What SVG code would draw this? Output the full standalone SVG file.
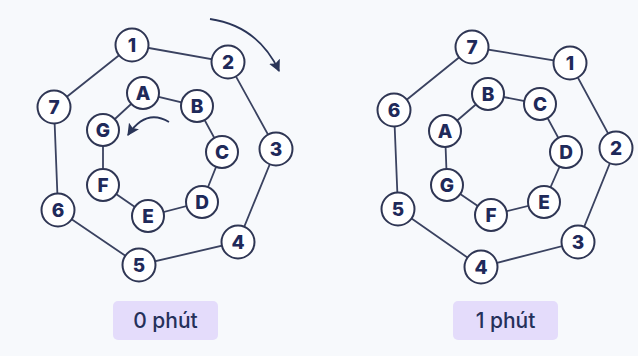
<svg xmlns="http://www.w3.org/2000/svg" width="638" height="356" viewBox="0 0 638 356">
<defs>
<style>
.bg{fill:#f7f9fc}
.edge{stroke:#3a4260;stroke-width:1.8;fill:none}
.node circle{fill:#ffffff;stroke:#2f3654;stroke-width:2}
.node text{font-family:Inter,"Open Sans",sans-serif;font-weight:800;font-size:19px;fill:#1f2a5a;text-anchor:middle;dominant-baseline:central}
.arrow{stroke:#2a3558;stroke-width:1.8;fill:none}
.tag rect{fill:#e4dcfb}
.tag text{font-family:Inter,"Open Sans",sans-serif;font-weight:500;font-size:21px;fill:#25305a;text-anchor:middle}
</style>
<marker id="ah2" viewBox="0 0 10 10" refX="9" refY="5" markerWidth="12" markerHeight="12" orient="auto" markerUnits="userSpaceOnUse">
<path d="M0,0 L10,5 L0,10 L2,5 Z" fill="#2a3558"/>
</marker>
</defs>
<rect class="bg" x="0" y="0" width="638" height="356"/>
<g id="connectors">
<polygon class="edge" points="132,45 228,62 276,149 238,242 139,265 58,210 54,107"/>
<polygon class="edge" points="143,93 197,106 222,152 202,202 148,216 103,185 103,130"/>
<polygon class="edge" points="472,47 570,63 616,148 578,242 481,267 398,209 394,110"/>
<polygon class="edge" points="445,131 488,94 540,104 566,152 544,202 491,215 447,185"/>
<path class="arrow" d="M210,19 Q258,26 279,71" marker-end="url(#ah2)"/>
<path class="arrow" d="M169,122 Q146,108 128,135" marker-end="url(#ah2)"/>
</g>
<g id="n1" class="node"><circle cx="132" cy="45" r="16.5"/><text x="132" y="45">1</text></g>
<g id="n2" class="node"><circle cx="228" cy="62" r="16.5"/><text x="228" y="62">2</text></g>
<g id="n3" class="node"><circle cx="276" cy="149" r="16.5"/><text x="276" y="149">3</text></g>
<g id="n4" class="node"><circle cx="238" cy="242" r="16.5"/><text x="238" y="242">4</text></g>
<g id="n5" class="node"><circle cx="139" cy="265" r="16.5"/><text x="139" y="265">5</text></g>
<g id="n6" class="node"><circle cx="58" cy="210" r="16.5"/><text x="58" y="210">6</text></g>
<g id="n7" class="node"><circle cx="54" cy="107" r="16.5"/><text x="54" y="107">7</text></g>
<g id="nA" class="node"><circle cx="143" cy="93" r="16"/><text x="143" y="93">A</text></g>
<g id="nB" class="node"><circle cx="197" cy="106" r="16"/><text x="197" y="106">B</text></g>
<g id="nC" class="node"><circle cx="222" cy="152" r="16"/><text x="222" y="152">C</text></g>
<g id="nD" class="node"><circle cx="202" cy="202" r="16"/><text x="202" y="202">D</text></g>
<g id="nE" class="node"><circle cx="148" cy="216" r="16"/><text x="148" y="216">E</text></g>
<g id="nF" class="node"><circle cx="103" cy="185" r="16"/><text x="103" y="185">F</text></g>
<g id="nG" class="node"><circle cx="103" cy="130" r="16"/><text x="103" y="130">G</text></g>
<g id="r7" class="node"><circle cx="472" cy="47" r="16.5"/><text x="472" y="47">7</text></g>
<g id="r1" class="node"><circle cx="570" cy="63" r="16.5"/><text x="570" y="63">1</text></g>
<g id="r2" class="node"><circle cx="616" cy="148" r="16.5"/><text x="616" y="148">2</text></g>
<g id="r3" class="node"><circle cx="578" cy="242" r="16.5"/><text x="578" y="242">3</text></g>
<g id="r4" class="node"><circle cx="481" cy="267" r="16.5"/><text x="481" y="267">4</text></g>
<g id="r5" class="node"><circle cx="398" cy="209" r="16.5"/><text x="398" y="209">5</text></g>
<g id="r6" class="node"><circle cx="394" cy="110" r="16.5"/><text x="394" y="110">6</text></g>
<g id="rA" class="node"><circle cx="445" cy="131" r="16"/><text x="445" y="131">A</text></g>
<g id="rB" class="node"><circle cx="488" cy="94" r="16"/><text x="488" y="94">B</text></g>
<g id="rC" class="node"><circle cx="540" cy="104" r="16"/><text x="540" y="104">C</text></g>
<g id="rD" class="node"><circle cx="566" cy="152" r="16"/><text x="566" y="152">D</text></g>
<g id="rE" class="node"><circle cx="544" cy="202" r="16"/><text x="544" y="202">E</text></g>
<g id="rF" class="node"><circle cx="491" cy="215" r="16"/><text x="491" y="215">F</text></g>
<g id="rG" class="node"><circle cx="447" cy="185" r="16"/><text x="447" y="185">G</text></g>
<g id="label0" class="tag"><rect x="113" y="301" width="105" height="39" rx="5"/><text x="165.5" y="328">0 phút</text></g>
<g id="label1" class="tag"><rect x="453" y="301" width="105" height="39" rx="5"/><text x="505.5" y="328">1 phút</text></g>
</svg>
